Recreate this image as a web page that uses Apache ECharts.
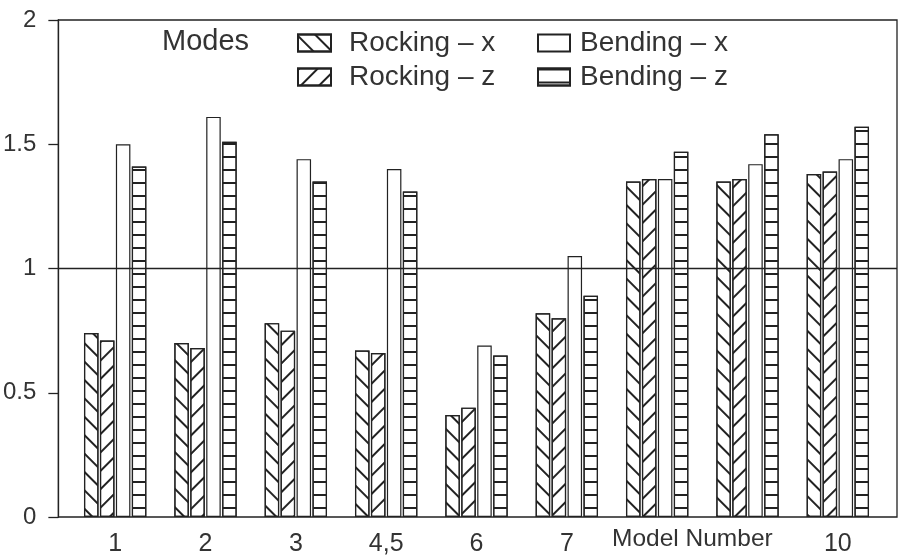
<!DOCTYPE html>
<html>
<head>
<meta charset="utf-8">
<script src="https://cdn.jsdelivr.net/npm/echarts@6/dist/echarts.min.js"></script>
<style>html,body{margin:0;padding:0;background:#fff}#c{width:898px;height:560px}</style>
</head>
<body>
<div id="c"></div>
<script>
const categories = ['1','2','3','4,5','6','7','8','9','10'];
const tickLabels = ['1','2','3','4,5','6','7','','','10'];
const rockingX = [0.74,0.70,0.78,0.67,0.41,0.82,1.35,1.35,1.38];
const rockingZ = [0.71,0.68,0.75,0.66,0.44,0.80,1.36,1.36,1.39];
const bendingX = [1.50,1.61,1.44,1.40,0.69,1.05,1.36,1.42,1.44];
const bendingZ = [1.41,1.51,1.35,1.31,0.65,0.89,1.47,1.54,1.57];
const seriesNames = ['Rocking \u2013 x','Rocking \u2013 z','Bending \u2013 x','Bending \u2013 z'];
const axisTitle = 'Model Number';
const legendTitle = 'Modes';

const INK = '#222';
const TXT = '#333';
const SANS = "'Liberation Sans',Arial,sans-serif";

function barStyle(decal){
  const s = {color:'#fff', borderColor:INK, borderWidth:1.2};
  if (decal) s.decal = decal;
  return s;
}
const decalRX = {symbol:'rect', symbolSize:1, color:INK, dashArrayX:[1,0], dashArrayY:[1.2,11], rotation:Math.PI/4};
const decalRZ = {symbol:'rect', symbolSize:1, color:INK, dashArrayX:[1,0], dashArrayY:[1.2,11], rotation:-Math.PI/4};
const decalBZ = {symbol:'rect', symbolSize:1, color:INK, dashArrayX:[1,0], dashArrayY:[1.3,10.4], rotation:0};

const chart = echarts.init(document.getElementById('c'), null, {renderer:'canvas'});
chart.setOption({
  animation:false,
  backgroundColor:'#fff',
  title:{text:legendTitle, left:157, top:22, textStyle:{fontFamily:SANS, fontSize:29, fontWeight:'normal', color:TXT}},
  legend:[
    {orient:'vertical', left:297, top:29, padding:0, itemWidth:33, itemHeight:17, itemGap:6, icon:'rect',
     data:[seriesNames[0], seriesNames[1]],
     textStyle:{fontFamily:SANS, fontSize:28, color:TXT, padding:[0,0,0,13], lineHeight:28}},
    {orient:'vertical', left:537, top:29, padding:0, itemWidth:32, itemHeight:17, itemGap:6, icon:'rect',
     data:[seriesNames[2], seriesNames[3]],
     textStyle:{fontFamily:SANS, fontSize:28, color:TXT, padding:[0,0,0,5], lineHeight:28}}
  ],
  grid:[
    {left:55, right:1, top:20, bottom:43, show:true, borderColor:INK, borderWidth:1.3, backgroundColor:'transparent'},
    {left:70, right:15, top:20, bottom:43}
  ],
  xAxis:[
    {type:'value', gridIndex:0, min:0, max:1, show:false},
    {type:'category', gridIndex:1, data:categories,
     axisLine:{show:false}, axisTick:{show:false},
     axisLabel:{formatter:(v, i)=>tickLabels[i], fontFamily:SANS, fontSize:25, color:TXT, margin:15}}
  ],
  yAxis:[
    {type:'value', gridIndex:0, min:0, max:2, interval:0.5,
     axisLine:{show:true, lineStyle:{color:INK, width:1.3}},
     axisTick:{show:true, inside:false, length:10, lineStyle:{color:INK, width:1.3}},
     splitLine:{show:false},
     axisLabel:{fontFamily:SANS, fontSize:24, color:TXT, margin:22}},
    {type:'value', gridIndex:1, min:0, max:2, interval:0.5, show:false, splitLine:{show:false}}
  ],
  series:[
    {type:'line', xAxisIndex:0, yAxisIndex:0, data:[], silent:true,
     markLine:{silent:true, symbol:'none', label:{show:false},
       lineStyle:{color:INK, width:1.3, type:'solid'}, data:[{yAxis:1}]}},
    {name:seriesNames[0], type:'bar', xAxisIndex:1, yAxisIndex:1, data:rockingX, barWidth:14.5, barGap:'10%', itemStyle:barStyle(decalRX)},
    {name:seriesNames[1], type:'bar', xAxisIndex:1, yAxisIndex:1, data:rockingZ, barWidth:14.5, barGap:'10%', itemStyle:barStyle(decalRZ)},
    {name:seriesNames[2], type:'bar', xAxisIndex:1, yAxisIndex:1, data:bendingX, barWidth:14.5, barGap:'10%', itemStyle:barStyle(null)},
    {name:seriesNames[3], type:'bar', xAxisIndex:1, yAxisIndex:1, data:bendingZ, barWidth:14.5, barGap:'10%', itemStyle:barStyle(decalBZ)}
  ],
  graphic:[
    {type:'text', left:612, top:527, silent:true,
     style:{text:axisTitle, fontFamily:SANS, fontSize:24.5, fill:TXT}}
  ]
});
</script>
</body>
</html>
